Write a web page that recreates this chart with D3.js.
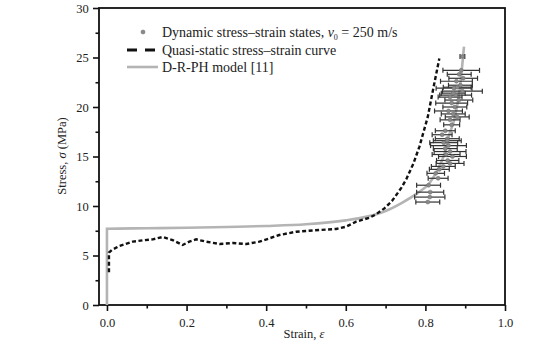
<!DOCTYPE html>
<html><head><meta charset="utf-8">
<script src="https://cdn.jsdelivr.net/npm/d3@7"></script>
<style>body{margin:0;background:#fff}svg{display:block}</style>
</head><body>
<script>
// Dynamic stress–strain states (strain, stress, strain error)
const dynStrain = [0.893,0.890,0.885,0.895,0.878,0.888,0.872,0.893,0.876,0.862,0.884,0.866,0.874,0.858,0.870,0.880,0.862,0.866,0.850,0.842,0.855,0.846,0.858,0.850,0.862,0.852,0.868,0.856,0.862,0.845,0.835,0.826,0.832,0.808,0.812,0.811,0.806,0.880,0.870,0.855];
const dynStress = [25.1,23.7,23.3,22.9,22.6,22.2,21.9,21.6,21.2,21.0,20.7,20.4,20.0,19.6,19.3,19.0,18.7,18.2,17.6,17.2,16.8,16.4,16.1,15.8,15.5,15.2,15.0,14.6,14.3,14.0,13.7,13.3,12.8,12.1,11.4,10.9,10.4,22.0,21.4,16.6];
const dynErr = [0.006,0.046,0.030,0.036,0.040,0.030,0.045,0.050,0.040,0.030,0.035,0.040,0.030,0.035,0.030,0.030,0.025,0.020,0.025,0.025,0.030,0.035,0.045,0.030,0.040,0.035,0.035,0.028,0.035,0.030,0.025,0.022,0.025,0.030,0.034,0.038,0.030,0.035,0.030,0.035];
// Quasi-static curve
const qsStrain = [0.005,0.005,0.005,0.012,0.031,0.065,0.09,0.115,0.14,0.165,0.19,0.207,0.224,0.249,0.283,0.316,0.35,0.383,0.408,0.433,0.475,0.534,0.576,0.601,0.626,0.66,0.676,0.697,0.716,0.739,0.752,0.77,0.785,0.806,0.819,0.835];
const qsStress = [3.3,4.3,5.3,5.55,5.96,6.4,6.53,6.63,6.87,6.56,6.06,6.4,6.63,6.4,6.16,6.26,6.16,6.4,6.73,7.07,7.4,7.58,7.68,7.91,8.42,8.82,9.16,9.76,10.5,11.8,12.7,14.3,16.0,19.0,21.7,24.9];
// D-R-PH model
const modelStrain = [0,0,0.1,0.2,0.3,0.4,0.5,0.6,0.65,0.7,0.74,0.78,0.81,0.83,0.848,0.86,0.873,0.886,0.897];
const modelStress = [0,7.7,7.75,7.8,7.88,7.98,8.15,8.55,8.9,9.5,10.3,11.3,12.3,13.6,15.3,17.2,18.8,21.7,26.1];
const xMajor = [0,0.2,0.4,0.6,0.8,1.0], xMinor = [0.1,0.3,0.5,0.7,0.9];
const yMajor = [0,5,10,15,20,25,30], yMinor = [2.5,7.5,12.5,17.5,22.5,27.5];

const FONT = "'Liberation Serif', 'Times New Roman', 'DejaVu Serif', serif";
const W=536,H=349;
const svg=d3.select("body").append("svg").attr("width",W).attr("height",H).style("font-family",FONT);
const x=d3.scaleLinear().domain([-0.02,1.0]).range([99,505]);
const y=d3.scaleLinear().domain([0,30]).range([305,8]);

// frame
svg.append("rect").attr("x",x.range()[0]).attr("y",y.range()[1]).attr("width",x.range()[1]-x.range()[0]).attr("height",y.range()[0]-y.range()[1]).attr("fill","none").attr("stroke","#111").attr("stroke-width",1.8);

// axes
const gx=svg.append("g").attr("transform",`translate(0,${y(0)})`);
gx.call(d3.axisBottom(x).tickValues(xMajor).tickSize(6).tickFormat(d3.format(".1f")));
const gxm=svg.append("g").attr("transform",`translate(0,${y(0)})`);
gxm.call(d3.axisBottom(x).tickValues(xMinor).tickSize(3.5).tickFormat(""));
const gy=svg.append("g").attr("transform",`translate(${x.range()[0]},0)`);
gy.call(d3.axisLeft(y).tickValues(yMajor).tickSize(6).tickFormat(d3.format("d")));
const gym=svg.append("g").attr("transform",`translate(${x.range()[0]},0)`);
gym.call(d3.axisLeft(y).tickValues(yMinor).tickSize(3.5).tickFormat(""));
svg.selectAll("g").attr("font-family",FONT);
svg.selectAll(".domain").remove();
svg.selectAll(".tick line").attr("stroke","#111").attr("stroke-width",1.6);
svg.selectAll(".tick text").style("font-family",FONT).attr("font-size",12.5).attr("fill","#222");
gx.selectAll(".tick text").attr("dy","1.0em");
gy.selectAll(".tick text").attr("dx","-0.1em");

// axis titles
const xt=svg.append("text").attr("x",304).attr("y",338).attr("text-anchor","middle").attr("font-size",12.5).attr("fill","#222");
xt.append("tspan").text("Strain, ");
xt.append("tspan").attr("font-style","italic").text("ε");
const yt=svg.append("text").attr("transform","translate(66,156) rotate(-90)").attr("text-anchor","middle").attr("font-size",12.5).attr("fill","#222");
yt.append("tspan").text("Stress, ");
yt.append("tspan").attr("font-style","italic").text("σ");
yt.append("tspan").text(" (MPa)");

// model line
svg.append("path").datum(modelStrain.map((s,i)=>[s,modelStress[i]]))
  .attr("d",d3.line().x(d=>x(d[0])).y(d=>y(d[1])).curve(d3.curveMonotoneX)).attr("fill","none").attr("stroke","#b4b4b4").attr("stroke-width",2.6);
// quasi-static
svg.append("path").datum(qsStrain.map((s,i)=>[s,qsStress[i]]))
  .attr("d",d3.line().x(d=>x(d[0])).y(d=>y(d[1]))).attr("fill","none").attr("stroke","#111").attr("stroke-width",2.4).attr("stroke-dasharray","4,2.5");

// dynamic points with error bars
const pts=dynStrain.map((s,i)=>({s,v:dynStress[i],e:dynErr[i]}));
const eb=svg.append("g").attr("stroke","#333").attr("stroke-width",1.2);
pts.forEach(p=>{
  eb.append("line").attr("x1",x(p.s-p.e)).attr("x2",x(p.s+p.e)).attr("y1",y(p.v)).attr("y2",y(p.v));
  eb.append("line").attr("x1",x(p.s-p.e)).attr("x2",x(p.s-p.e)).attr("y1",y(p.v)-2.5).attr("y2",y(p.v)+2.5);
  eb.append("line").attr("x1",x(p.s+p.e)).attr("x2",x(p.s+p.e)).attr("y1",y(p.v)-2.5).attr("y2",y(p.v)+2.5);
});
svg.append("g").selectAll("circle").data(pts).join("circle")
  .attr("cx",d=>x(d.s)).attr("cy",d=>y(d.v)).attr("r",2).attr("fill","#8a8a8a").attr("stroke","#666").attr("stroke-width",0.5);

// legend
const lg=svg.append("g");
lg.append("circle").attr("cx",143).attr("cy",32).attr("r",2).attr("fill","#8a8a8a").attr("stroke","#666").attr("stroke-width",0.5);
lg.append("line").attr("x1",127).attr("x2",158).attr("y1",50).attr("y2",50).attr("stroke","#111").attr("stroke-width",3).attr("stroke-dasharray","10,8");
lg.append("line").attr("x1",127).attr("x2",158).attr("y1",67).attr("y2",67).attr("stroke","#b4b4b4").attr("stroke-width",2.6);
const t1=lg.append("text").attr("x",162).attr("y",37).attr("font-size",14).attr("fill","#222");
t1.append("tspan").text("Dynamic stress–strain states, ");
t1.append("tspan").attr("font-style","italic").text("v");
t1.append("tspan").attr("font-size",8).attr("dy",3).text("0");
t1.append("tspan").attr("dy",-3).text(" = 250 m/s");
lg.append("text").attr("x",162).attr("y",55).attr("font-size",14).attr("fill","#222").text("Quasi-static stress–strain curve");
lg.append("text").attr("x",162).attr("y",72).attr("font-size",14).attr("fill","#222").text("D-R-PH model [11]");
</script>
</body></html>
